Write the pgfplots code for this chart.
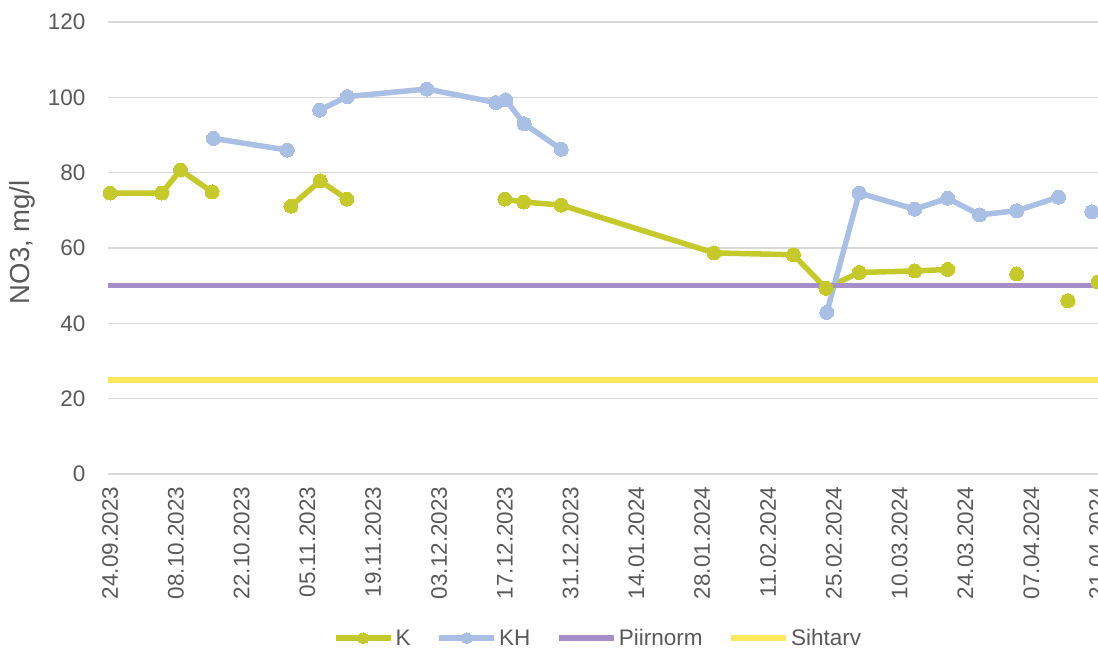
\documentclass[border=0pt]{standalone}
\usepackage{pgfplots}
\pgfplotsset{compat=1.18}
\usepackage{fontspec}
\setmainfont{Liberation Sans}
\definecolor{cK}{HTML}{C5C92B}
\definecolor{cKH}{HTML}{A9C0E4}
\definecolor{cP}{HTML}{A58FC6}
\definecolor{cS}{HTML}{FCE85C}
\definecolor{txt}{HTML}{595959}
\definecolor{grd}{HTML}{D9D9D9}
\begin{document}
\begin{tikzpicture}
\begin{axis}[
  scale only axis,
  width=990pt, height=452pt,
  xmin=-0.43, xmax=210.2,
  ymin=0, ymax=120,
  ytick={0,20,...,120},
  xtick={0,14,...,210},
  xticklabels={24.09.2023,08.10.2023,22.10.2023,05.11.2023,19.11.2023,03.12.2023,17.12.2023,31.12.2023,14.01.2024,28.01.2024,11.02.2024,25.02.2024,10.03.2024,24.03.2024,07.04.2024,21.04.2024},
  axis line style={draw=none},
  major tick length=0pt,
  ymajorgrids,
  grid style={grd, line width=1.6pt},
  font=\fontsize{22.5}{27}\selectfont,
  tick label style={text=txt},
  /pgf/number format/assume math mode=true,
  yticklabel style={xshift=-19pt},
  xticklabel style={rotate=90, anchor=east, xshift=-9pt},
  ylabel={NO3, mg/l},
  ylabel style={text=txt, font=\fontsize{27.5}{32}\selectfont, at={(axis description cs:-0.0869,0.513)}, anchor=center},
  unbounded coords=jump,
  clip=true,
  legend columns=4,
  legend style={draw=none, fill=none, at={(axis description cs:0.495,-0.363)}, anchor=center,
    text=txt, font=\fontsize{22.5}{27}\selectfont,
    nodes={inner xsep=2pt},
    /tikz/every even column/.append style={column sep=24pt}},
  legend cell align=left,
  legend image code/.code={
    \draw[#1, mark=none] (0pt,0pt) -- (55pt,0pt);
    \path[#1, mark size=5.5pt] plot coordinates {(27.5pt,0pt)};
  },
]
\addplot[cK, line width=5.5pt, mark=*, mark size=7pt, mark options={solid, fill=cK, draw=cK, line width=0pt}] coordinates {
(0,74.6)(11,74.6)(15,80.7)(21.7,74.9)(30,nan)(38.5,71.1)(44.7,77.8)(50.4,73.0)(70,nan)(84,73.0)(88,72.2)(96,71.4)(128.5,58.7)(145.4,58.2)(152.3,49.3)(159.4,53.5)(171.2,53.9)(178.2,54.3)(185,nan)(192.9,53.1)(198,nan)(203.8,46.0)(207,nan)(210.2,51.0)
};
\addlegendentry{K}
\addplot[cKH, line width=5.5pt, mark=*, mark size=7pt, mark options={solid, fill=cKH, draw=cKH, line width=0pt}] coordinates {
(22,89.1)(37.7,86.0)(41,nan)(44.6,96.6)(50.5,100.2)(67.4,102.2)(82.1,98.6)(84.2,99.3)(88.1,93.0)(96,86.2)(120,nan)(152.5,42.9)(159.4,74.6)(171.2,70.3)(178.2,73.2)(185,68.8)(192.9,69.9)(201.8,73.5)(205,nan)(208.9,69.6)
};
\addlegendentry{KH}
\addplot[cP, line width=5.5pt, mark=none] coordinates {(-0.43,50)(210.2,50)};
\addlegendentry{Piirnorm}
\addplot[cS, line width=5.5pt, mark=none] coordinates {(-0.43,25)(210.2,25)};
\addlegendentry{Sihtarv}
\end{axis}
\pgfresetboundingbox
\path[use as bounding box] ([xshift=-108pt,yshift=-178pt]current axis.south west) rectangle ([yshift=22pt]current axis.north east);
\end{tikzpicture}
\end{document}
